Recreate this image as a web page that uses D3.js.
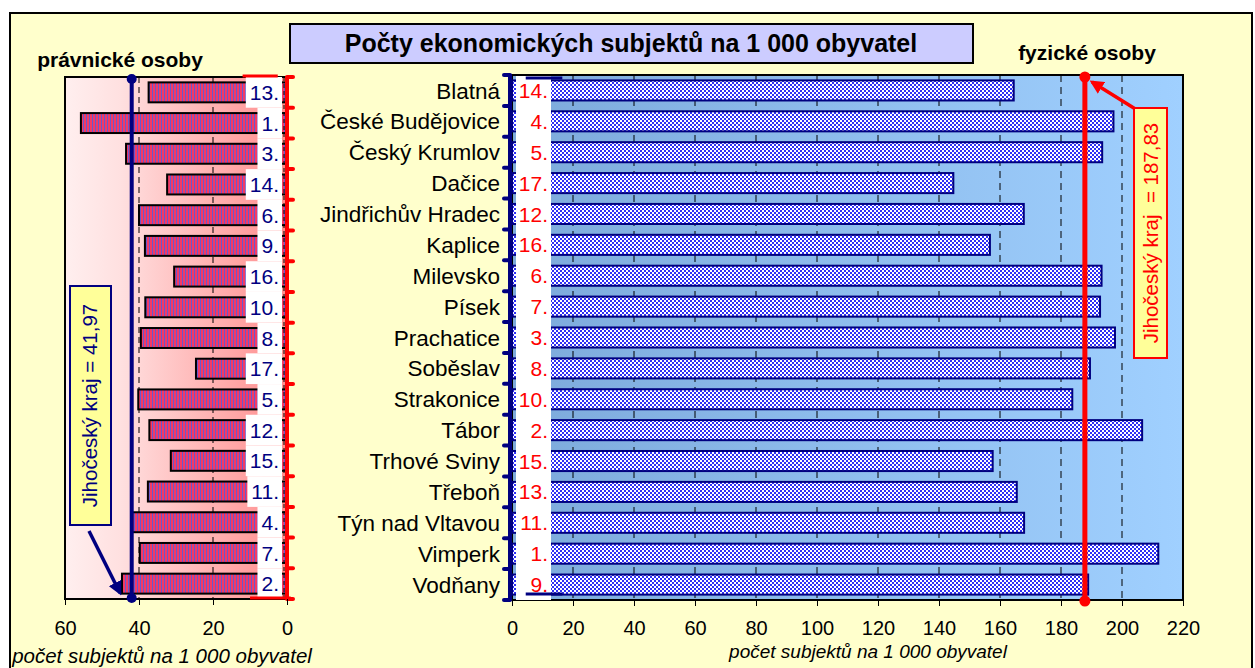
<!DOCTYPE html>
<html>
<head>
<meta charset="utf-8">
<script src="https://cdn.jsdelivr.net/npm/d3@7"></script>
<style>
body { margin: 0; background: #fff; }
text { font-family: Arial, "Liberation Sans", sans-serif; }
</style>
</head>
<body>
<div id="chart"></div>
<script>
// okresy / obce s rozšířenou působností
var towns = ["Blatná", "České Budějovice", "Český Krumlov", "Dačice", "Jindřichův Hradec",
	"Kaplice", "Milevsko", "Písek", "Prachatice", "Soběslav", "Strakonice", "Tábor",
	"Trhové Sviny", "Třeboň", "Týn nad Vltavou", "Vimperk", "Vodňany"];

// právnické osoby na 1 000 obyvatel
var pravnicke = [37.4, 55.7, 43.5, 32.4, 40.0, 38.4, 30.5, 38.3, 39.5, 24.6,
	40.2, 37.2, 31.4, 37.6, 42.0, 39.8, 44.6];
var poradiP = [13, 1, 3, 14, 6, 9, 16, 10, 8, 17, 5, 12, 15, 11, 4, 7, 2];

// fyzické osoby na 1 000 obyvatel
var fyzicke = [164.5, 197.2, 193.5, 144.7, 167.8, 156.7, 193.3, 192.8, 197.7, 189.5,
	183.7, 206.6, 157.6, 165.5, 167.9, 211.9, 188.9];
var poradiF = [14, 4, 5, 17, 12, 16, 6, 7, 3, 8, 10, 2, 15, 13, 11, 1, 9];

var prumerP = 41.97, prumerF = 187.83;
var ticksP = [60, 40, 20, 0];
var ticksF = [0, 20, 40, 60, 80, 100, 120, 140, 160, 180, 200, 220];

var width = 1255, height = 668;
var svg = d3.select("#chart").append("svg").attr("width", width).attr("height", height);
var defs = svg.append("defs");

// vzory výplně
var pr = defs.append("pattern").attr("id", "pruhy").attr("patternUnits", "userSpaceOnUse")
	.attr("width", 3).attr("height", 4);
pr.append("rect").attr("width", 3).attr("height", 4).attr("fill", "#F23A66");
pr.append("rect").attr("x", 2).attr("width", 1).attr("height", 4).attr("fill", "#6A58CC");

var ko = defs.append("pattern").attr("id", "kostky").attr("patternUnits", "userSpaceOnUse")
	.attr("width", 4).attr("height", 4);
ko.append("rect").attr("width", 4).attr("height", 4).attr("fill", "#2F2FF5");
ko.append("rect").attr("width", 2).attr("height", 2).attr("fill", "#fff");
ko.append("rect").attr("x", 2).attr("y", 2).attr("width", 2).attr("height", 2).attr("fill", "#fff");

var gP = defs.append("linearGradient").attr("id", "bgP");
gP.append("stop").attr("offset", 0).attr("stop-color", "#FFEFEF");
gP.append("stop").attr("offset", 0.25).attr("stop-color", "#FFE0E0");
gP.append("stop").attr("offset", 1).attr("stop-color", "#FF8C8C");

var gF = defs.append("linearGradient").attr("id", "bgF");
gF.append("stop").attr("offset", 0).attr("stop-color", "#7DAADB");
gF.append("stop").attr("offset", 1).attr("stop-color", "#A0D0FF");

function arrowHead(id, color) {
	defs.append("marker").attr("id", id).attr("viewBox", "0 0 10 10")
		.attr("refX", 8).attr("refY", 5).attr("markerWidth", 4).attr("markerHeight", 4)
		.attr("orient", "auto").attr("markerUnits", "strokeWidth")
		.append("path").attr("d", "M0,0L10,5L0,10Z").attr("fill", color);
}
arrowHead("sipN", "#000080");
arrowHead("sipR", "#FF0000");

// rámeček celého grafu
svg.append("rect").attr("x", 10).attr("y", 13).attr("width", 1242).attr("height", 665)
	.attr("fill", "#FFFFCC").attr("stroke", "#000").attr("stroke-width", 2);

// titulek
svg.append("rect").attr("x", 290).attr("y", 24).attr("width", 683).attr("height", 39)
	.attr("fill", "#CCCCFF").attr("stroke", "#000").attr("stroke-width", 2);
svg.append("text").attr("x", 631).attr("y", 52).attr("text-anchor", "middle")
	.style("font-size", "25px").style("font-weight", "bold")
	.text("Počty ekonomických subjektů na 1 000 obyvatel");

// scales
var xL = d3.scaleLinear().domain([60, 0]).range([65, 287]);
var xR = d3.scaleLinear().domain([0, 220]).range([512, 1183]);
var yL = d3.scaleBand().domain(towns).range([77, 599]).paddingInner(0.35).paddingOuter(0.175);
var yR = d3.scaleBand().domain(towns).range([75, 600]).paddingInner(0.35).paddingOuter(0.175);

// ===== levý panel: právnické osoby =====
var left = svg.append("g");
left.append("rect").attr("x", xL(60)).attr("y", yL.range()[0])
	.attr("width", xL(0) - xL(60)).attr("height", yL.range()[1] - yL.range()[0])
	.attr("fill", "url(#bgP)").attr("stroke", "#000").attr("stroke-width", 2);

left.selectAll(".grid").data([40, 20]).enter().append("line")
	.attr("x1", d => xL(d)).attr("x2", d => xL(d))
	.attr("y1", yL.range()[0]).attr("y2", yL.range()[1])
	.attr("stroke", "#000").attr("stroke-dasharray", "6,4");

left.selectAll(".bar").data(towns).enter().append("rect")
	.attr("x", (d, i) => xL(pravnicke[i]))
	.attr("y", d => yL(d))
	.attr("width", (d, i) => xL(0) - xL(pravnicke[i]))
	.attr("height", yL.bandwidth())
	.attr("fill", "url(#pruhy)").attr("stroke", "#000").attr("stroke-width", 2);

var labP = left.selectAll(".lab").data(towns).enter().append("g");
labP.append("rect").attr("fill", "#fff");
labP.append("text")
	.attr("x", 279).attr("y", d => yL(d) + yL.bandwidth() / 2).attr("dy", "0.36em")
	.attr("text-anchor", "end").attr("fill", "#000080").style("font-size", "21px")
	.text((d, i) => poradiP[i] + ".");
labP.each(function(d) {
	var w = d3.select(this).select("text").node().getComputedTextLength();
	d3.select(this).select("rect")
		.attr("x", 282 - w - 7).attr("width", w + 7)
		.attr("y", yL(d) - yL.step() * yL.paddingInner() / 2).attr("height", yL.step());
});

left.append("line").attr("x1", xL(0) - 3).attr("x2", xL(0) - 3)
	.attr("y1", yL.range()[0]).attr("y2", yL.range()[1])
	.attr("stroke", "#000").attr("stroke-dasharray", "4,3");

// červená osa s tiky
left.append("line").attr("x1", xL(0)).attr("x2", xL(0))
	.attr("y1", yL.range()[0]).attr("y2", yL.range()[1])
	.attr("stroke", "#FF0000").attr("stroke-width", 4);
left.selectAll(".rt").data(d3.range(towns.length + 1)).enter().append("line")
	.attr("x1", xL(0)).attr("x2", xL(0) + 6)
	.attr("y1", i => yL.range()[0] + i * yL.step())
	.attr("y2", i => yL.range()[0] + i * yL.step())
	.attr("stroke", "#FF0000").attr("stroke-width", 4).attr("stroke-linecap", "round");
left.append("line").attr("x1", xL(12)).attr("x2", xL(2.5)).attr("y1", 76).attr("y2", 76)
	.attr("stroke", "#FF0000").attr("stroke-width", 3);
left.append("line").attr("x1", xL(10)).attr("x2", xL(-1)).attr("y1", 598).attr("y2", 598)
	.attr("stroke", "#FF0000").attr("stroke-width", 3);

// průměr kraje
left.append("line").attr("x1", xL(prumerP)).attr("x2", xL(prumerP))
	.attr("y1", 79).attr("y2", 598).attr("stroke", "#000080").attr("stroke-width", 4);
left.selectAll(".dot").data([79, 598]).enter().append("circle")
	.attr("cx", xL(prumerP)).attr("cy", d => d).attr("r", 5).attr("fill", "#000080");

left.append("line").attr("x1", 89).attr("y1", 531).attr("x2", 120).attr("y2", 593)
	.attr("stroke", "#000080").attr("stroke-width", 3.5).attr("marker-end", "url(#sipN)");
left.append("rect").attr("x", 70).attr("y", 286).attr("width", 41).attr("height", 239)
	.attr("fill", "#FFFF99").attr("stroke", "#000080").attr("stroke-width", 2);
left.append("text").attr("transform", "translate(97,405.5) rotate(-90)")
	.attr("text-anchor", "middle").attr("fill", "#000080").style("font-size", "20.5px")
	.text("Jihočeský kraj = " + d3.format(".2f")(prumerP).replace(".", ","));

left.append("g").attr("transform", "translate(0," + yL.range()[1] + ")")
	.call(d3.axisBottom(xL).tickValues(ticksP).tickSize(6).tickPadding(16))
	.call(g => g.select(".domain").remove())
	.call(g => g.selectAll("text").style("font-size", "20px").attr("fill", "#000")
		.style("font-family", "Arial, 'Liberation Sans', sans-serif"));

svg.append("text").attr("x", 120).attr("y", 67).attr("text-anchor", "middle")
	.style("font-size", "21px").style("font-weight", "bold").text("právnické osoby");
svg.append("text").attr("x", 162).attr("y", 663).attr("text-anchor", "middle")
	.style("font-size", "20.5px").style("font-style", "italic")
	.text("počet subjektů na 1 000 obyvatel");

// ===== pravý panel: fyzické osoby =====
var right = svg.append("g");
right.append("rect").attr("x", xR(0)).attr("y", yR.range()[0])
	.attr("width", xR(220) - xR(0)).attr("height", yR.range()[1] - yR.range()[0])
	.attr("fill", "url(#bgF)").attr("stroke", "#000").attr("stroke-width", 2);

right.selectAll(".grid").data(ticksF.slice(1, -1)).enter().append("line")
	.attr("x1", d => xR(d)).attr("x2", d => xR(d))
	.attr("y1", yR.range()[0]).attr("y2", yR.range()[1])
	.attr("stroke", "#000").attr("stroke-dasharray", "7,5");

right.selectAll(".bar").data(towns).enter().append("rect")
	.attr("x", xR(0)).attr("y", d => yR(d))
	.attr("width", (d, i) => xR(fyzicke[i]) - xR(0))
	.attr("height", yR.bandwidth())
	.attr("fill", "url(#kostky)").attr("stroke", "#000080").attr("stroke-width", 2);

right.append("rect").attr("x", xR(0) + 4).attr("width", 35)
	.attr("y", yR.range()[0] + 1).attr("height", yR.range()[1] - yR.range()[0] - 1)
	.attr("fill", "#fff");
right.selectAll(".lab").data(towns).enter().append("text")
	.attr("x", xR(0) + 36).attr("y", d => yR(d) + yR.bandwidth() / 2).attr("dy", "0.36em")
	.attr("text-anchor", "end").attr("fill", "#FF0000").style("font-size", "21px")
	.text((d, i) => poradiF[i] + ".");

right.append("line").attr("x1", xR(0) - 2).attr("x2", xR(0) - 2)
	.attr("y1", yR.range()[0]).attr("y2", yR.range()[1])
	.attr("stroke", "#000080").attr("stroke-width", 4);
right.selectAll(".nt").data(d3.range(towns.length + 1)).enter().append("line")
	.attr("x1", xR(0) - 2).attr("x2", xR(0) - 8)
	.attr("y1", i => yR.range()[0] + i * yR.step())
	.attr("y2", i => yR.range()[0] + i * yR.step())
	.attr("stroke", "#000080").attr("stroke-width", 4).attr("stroke-linecap", "round");
right.append("line").attr("x1", xR(4.5)).attr("x2", xR(16.5)).attr("y1", 78).attr("y2", 78)
	.attr("stroke", "#000080").attr("stroke-width", 3);
right.append("line").attr("x1", xR(4.5)).attr("x2", xR(16.5)).attr("y1", 594).attr("y2", 594)
	.attr("stroke", "#000080").attr("stroke-width", 3);

right.append("line").attr("x1", xR(prumerF)).attr("x2", xR(prumerF))
	.attr("y1", 77).attr("y2", 601).attr("stroke", "#FF0000").attr("stroke-width", 5);
right.selectAll(".dot").data([77, 601]).enter().append("circle")
	.attr("cx", xR(prumerF)).attr("cy", d => d).attr("r", 5.5).attr("fill", "#FF0000");

right.append("line").attr("x1", 1137).attr("y1", 110).attr("x2", 1092).attr("y2", 82)
	.attr("stroke", "#FF0000").attr("stroke-width", 3.5).attr("marker-end", "url(#sipR)");
right.append("rect").attr("x", 1134).attr("y", 108).attr("width", 33).attr("height", 250)
	.attr("fill", "#FFFF99").attr("stroke", "#FF0000").attr("stroke-width", 2);
right.append("text").attr("transform", "translate(1158,233) rotate(-90)")
	.attr("text-anchor", "middle").attr("fill", "#FF0000").style("font-size", "20.5px")
	.style("white-space", "pre")
	.text("Jihočeský kraj  = " + d3.format(".2f")(prumerF).replace(".", ","));

right.append("g").attr("transform", "translate(0," + yR.range()[1] + ")")
	.call(d3.axisBottom(xR).tickValues(ticksF).tickSize(6).tickPadding(15))
	.call(g => g.select(".domain").remove())
	.call(g => g.selectAll("text").style("font-size", "20px").attr("fill", "#000")
		.style("font-family", "Arial, 'Liberation Sans', sans-serif"));

// názvy obcí
svg.selectAll(".town").data(towns).enter().append("text")
	.attr("x", 500).attr("y", d => yR(d) + yR.bandwidth() / 2).attr("dy", "0.36em")
	.attr("text-anchor", "end").style("font-size", "22.5px")
	.text(d => d);

svg.append("text").attr("x", 1087).attr("y", 60).attr("text-anchor", "middle")
	.style("font-size", "21px").style("font-weight", "bold").text("fyzické osoby");
svg.append("text").attr("x", 868).attr("y", 658).attr("text-anchor", "middle")
	.style("font-size", "19px").style("font-style", "italic")
	.text("počet subjektů na 1 000 obyvatel");
</script>
</body>
</html>
